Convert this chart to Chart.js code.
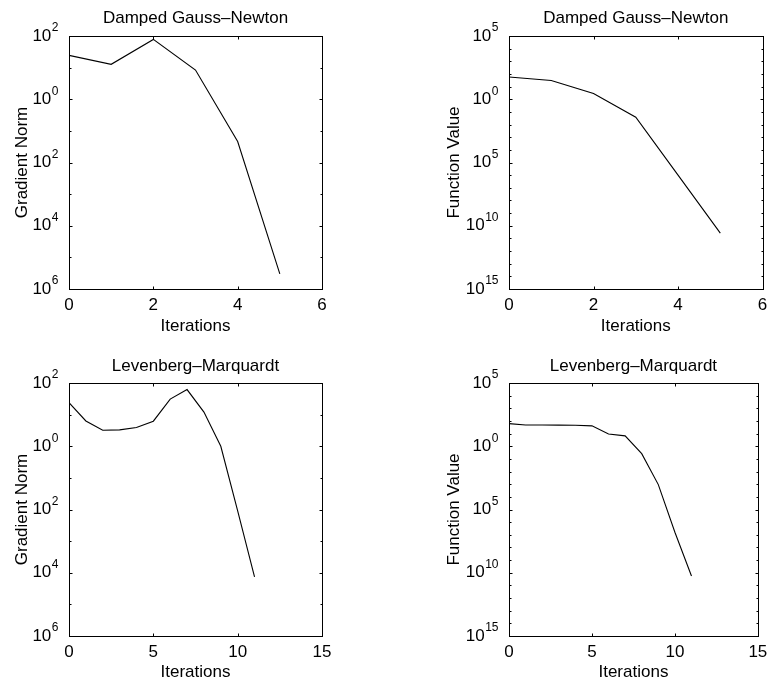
<!DOCTYPE html>
<html>
<head>
<meta charset="utf-8">
<title>Damped Gauss-Newton vs Levenberg-Marquardt</title>
<script src="https://cdn.jsdelivr.net/npm/chart.js@4.4.1/dist/chart.umd.min.js"></script>
<style>
  html, body { margin: 0; padding: 0; background: #fff; }
  canvas { position: absolute; }
</style>
</head>
<body>
<canvas id="gnGradChart" width="390" height="342" style="left:0;top:0"></canvas>
<canvas id="gnFvalChart" width="383" height="342" style="left:390px;top:0"></canvas>
<canvas id="lmGradChart" width="390" height="342" style="left:0;top:342px"></canvas>
<canvas id="lmFvalChart" width="383" height="342" style="left:390px;top:342px"></canvas>
<script>
"use strict";

/* data */
var gnIters = [0, 1, 2, 3, 4, 5];
var gnGrad  = [24.5, 12.7, 78, 8.4, 0.046, 3e-6];
var gnFval  = [58, 30, 2.8, 0.038, 1e-6, 2.6e-11];

var lmIters = [0, 1, 2, 3, 4, 5, 6, 7, 8, 9, 10, 11];
var lmGrad  = [24, 6.3, 3.2, 3.3, 3.9, 6.2, 31, 62, 12, 1, 0.009, 7.4e-5];
var lmFval  = [62, 48, 48, 47, 46, 41, 9.4, 6.6, 0.26, 9.3e-4, 1.6e-7, 5.5e-11];

/* y axis decades (tick marks) and the labelled ones */
var gradDecades  = [-6, -5, -4, -3, -2, -1, 0, 1, 2];
var gradLabelled = [-6, -4, -2, 0, 2];
var gradLabels   = ['6', '4', '2', '0', '2'];
var fvalDecades  = [-15, -14, -13, -12, -11, -10, -9, -8, -7, -6, -5, -4, -3, -2, -1, 0, 1, 2, 3, 4, 5];
var fvalLabelled = [-15, -10, -5, 0, 5];
var fvalLabels   = ['15', '10', '5', '0', '5'];

var FONT = "'Liberation Sans', Arial, Helvetica, sans-serif";
Chart.defaults.font.family = FONT;
Chart.defaults.font.size = 17;
Chart.defaults.color = '#000';

/* MATLAB-style box, inward ticks and 10^n labels */
var boxPlugin = {
  id: 'matlabBox',
  afterDatasetsDraw: function(chart) {
    var cfg = chart.options.plugins.matlabBox;
    var ctx = chart.ctx, a = chart.chartArea;
    var xs = chart.scales.x, ys = chart.scales.y;
    var L = Math.round(a.left) + 0.5, R = Math.round(a.right) + 0.5;
    var T = Math.round(a.top) + 0.5, B = Math.round(a.bottom) + 0.5;
    ctx.save();
    ctx.strokeStyle = '#000';
    ctx.lineWidth = 1;
    ctx.beginPath();
    xs.ticks.forEach(function(t) {
      var px = Math.round(xs.getPixelForValue(t.value)) + 0.5;
      ctx.moveTo(px, B); ctx.lineTo(px, B - 3);
      ctx.moveTo(px, T); ctx.lineTo(px, T + 3);
    });
    cfg.decades.forEach(function(e) {
      var py = Math.round(ys.getPixelForValue(Math.pow(10, e))) + 0.5;
      var len = cfg.labelled.indexOf(e) >= 0 ? 3 : 2;
      ctx.moveTo(L, py); ctx.lineTo(L + len, py);
      ctx.moveTo(R, py); ctx.lineTo(R - len, py);
    });
    ctx.stroke();
    ctx.strokeRect(L, T, R - L, B - T);

    ctx.fillStyle = '#000';
    ctx.textBaseline = 'middle';
    ctx.textAlign = 'left';
    cfg.labelled.forEach(function(e, i) {
      var py = ys.getPixelForValue(Math.pow(10, e));
      var ex = cfg.labels[i];
      ctx.font = '12px ' + FONT;
      var ew = ctx.measureText(ex).width;
      ctx.font = '17px ' + FONT;
      var tw = ctx.measureText('10').width;
      var x0 = a.left - 11 - ew - tw;
      ctx.fillText('10', x0, py);
      ctx.font = '12px ' + FONT;
      ctx.fillText(ex, x0 + tw + 0.5, py - 8);
    });
    ctx.restore();
  }
};

function makeChart(id, opt) {
  new Chart(document.getElementById(id), {
    type: 'line',
    data: {
      datasets: [{
        data: opt.iters.map(function(x, i) { return { x: x, y: opt.values[i] }; }),
        borderColor: '#000',
        borderWidth: 1.1,
        pointRadius: 0,
        fill: false,
        tension: 0
      }]
    },
    options: {
      responsive: false,
      animation: false,
      layout: { padding: { left: opt.padLeft, right: opt.padRight, top: 0, bottom: 0 } },
      plugins: {
        legend: { display: false },
        tooltip: { enabled: false },
        title: {
          display: true,
          text: opt.title,
          fullSize: false,
          color: '#000',
          font: { size: 17, weight: 'normal' },
          padding: { top: opt.titleTop, bottom: opt.titleBottom }
        },
        matlabBox: { decades: opt.decades, labelled: opt.labelled, labels: opt.labels }
      },
      scales: {
        x: {
          type: 'linear',
          min: 0,
          max: opt.xMax,
          grid: { display: false, drawTicks: false },
          border: { display: false },
          ticks: { stepSize: opt.xStep, padding: 5.7, maxRotation: 0, color: '#000', font: { size: 17 } },
          title: { display: true, text: 'Iterations', color: '#000', font: { size: 17 },
                   padding: { top: 0, bottom: opt.xTitleBottom } },
          afterFit: function(s) { s.height = opt.xHeight; }
        },
        y: {
          type: 'logarithmic',
          min: opt.yMin,
          max: opt.yMax,
          grid: { display: false, drawTicks: false },
          border: { display: false },
          ticks: { display: false },
          title: { display: true, text: opt.yTitle, color: '#000', font: { size: 17 },
                   padding: { top: 9.8, bottom: 0 } },
          afterFit: function(s) { s.width = opt.yWidth; }
        }
      }
    },
    plugins: [boxPlugin]
  });
}

makeChart('gnGradChart', {
  iters: gnIters, values: gnGrad, title: 'Damped Gauss\u2013Newton', yTitle: 'Gradient Norm',
  xMax: 6, xStep: 2, yMin: 1e-6, yMax: 1e2,
  decades: gradDecades, labelled: gradLabelled, labels: gradLabels,
  padLeft: 2, padRight: 68, yWidth: 67, titleTop: 7.8, titleBottom: 7.8, xHeight: 53, xTitleBottom: 5.8
});
makeChart('gnFvalChart', {
  iters: gnIters, values: gnFval, title: 'Damped Gauss\u2013Newton', yTitle: 'Function Value',
  xMax: 6, xStep: 2, yMin: 1e-15, yMax: 1e5,
  decades: fvalDecades, labelled: fvalLabelled, labels: fvalLabels,
  padLeft: 44, padRight: 10, yWidth: 75, titleTop: 7.8, titleBottom: 7.8, xHeight: 53, xTitleBottom: 5.8
});
makeChart('lmGradChart', {
  iters: lmIters, values: lmGrad, title: 'Levenberg\u2013Marquardt', yTitle: 'Gradient Norm',
  xMax: 15, xStep: 5, yMin: 1e-6, yMax: 1e2,
  decades: gradDecades, labelled: gradLabelled, labels: gradLabels,
  padLeft: 2, padRight: 68, yWidth: 67, titleTop: 13.8, titleBottom: 6.8, xHeight: 48, xTitleBottom: 1.1
});
makeChart('lmFvalChart', {
  iters: lmIters, values: lmFval, title: 'Levenberg\u2013Marquardt', yTitle: 'Function Value',
  xMax: 15, xStep: 5, yMin: 1e-15, yMax: 1e5,
  decades: fvalDecades, labelled: fvalLabelled, labels: fvalLabels,
  padLeft: 44, padRight: 10, yWidth: 75, titleTop: 13.8, titleBottom: 6.8, xHeight: 48, xTitleBottom: 1.1
});
</script>
</body>
</html>
